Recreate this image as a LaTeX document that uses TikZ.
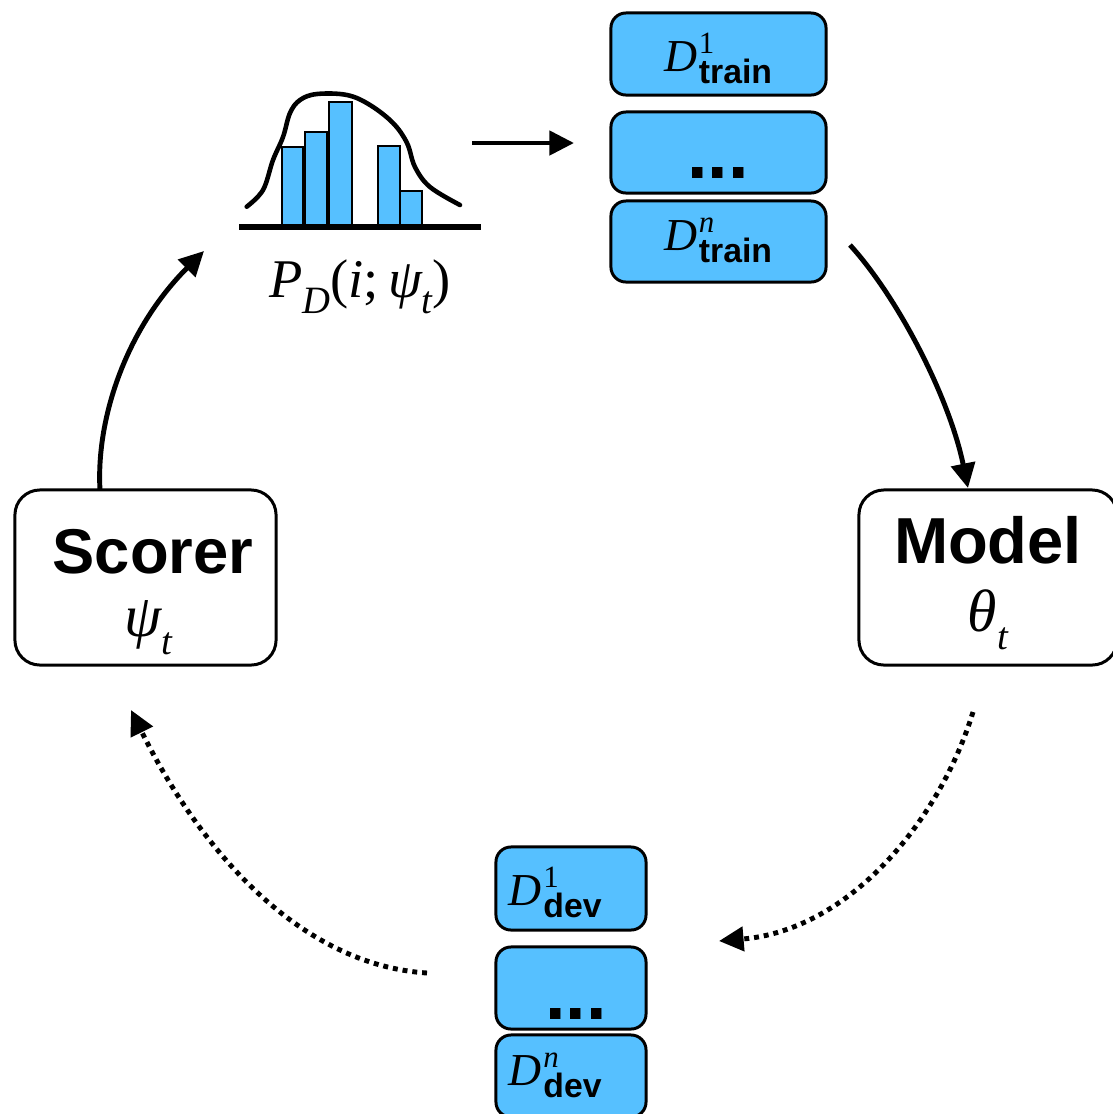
\documentclass[tikz,border=0pt]{standalone}
\usepackage{fontspec}
\setsansfont{Liberation Sans}
\newfontfamily\tms{Liberation Serif}
\usetikzlibrary{arrows.meta,calc}
\definecolor{boxblue}{RGB}{86,192,255}
\newcommand{\ti}[1]{{\tms\itshape #1}}
\newcommand{\tu}[1]{{\tms #1}}
\newcommand{\lsub}[1]{\raisebox{-0.3em}{\fontsize{11}{12}\selectfont\tms\itshape #1}}
\newcommand{\dlab}[2]{$\mbox{\tms\itshape D\kern0.04em}^{\mbox{\fontsize{8.8}{10}\selectfont\tms #1}}_{\mbox{\fontsize{9.6}{10}\selectfont\sffamily\bfseries #2}}$}
\begin{document}
\begin{tikzpicture}[x=0.01cm,y=-0.01cm,
  whitebox/.style={draw=black, line width=0.85pt, rounded corners=0.25cm, fill=white, inner sep=0pt},
  bluebox/.style={draw=black, line width=0.85pt, rounded corners=0.15cm, fill=boxblue, inner sep=0pt},
  conn/.style={line width=1.4pt, -{Triangle[length=7pt,width=6.8pt]}},
  dotconn/.style={conn, dash pattern=on 1.4pt off 1.4pt},
  bar/.style={draw=black, line width=0.6pt, fill=boxblue},
  title/.style={font=\sffamily\bfseries\fontsize{18}{21}\selectfont, anchor=base, inner sep=0pt},
  mathlab/.style={font=\fontsize{15.5}{18}\selectfont, inner sep=0pt},
  biglab/.style={font=\fontsize{17}{20}\selectfont, inner sep=0pt},
  dlabel/.style={font=\fontsize{13}{15}\selectfont, inner sep=0pt},
  dots/.style={font=\sffamily\bfseries\fontsize{21}{24}\selectfont, inner sep=0pt, anchor=base}
]
\useasboundingbox (0,0) rectangle (1113,1114);
\clip (0,0) rectangle (1113,1114);

% Scorer
\node[whitebox, minimum width=2.61cm, minimum height=1.75cm] (scorer) at (145.5,577.5) {};
\node[title] (scorertxt) at (153,573) {Scorer};
\node[biglab] (psi) at (148,628) {\ti{ψ}\lsub{t}};

% Model
\node[whitebox, minimum width=2.58cm, minimum height=1.75cm] (model) at (988,577.5) {};
\node[title, font=\sffamily\bfseries\fontsize{18.5}{21}\selectfont] (modeltxt) at (988,563) {Model};
\node[biglab] (theta) at (988,620) {\ti{θ}\lsub{t}};

% Train boxes
\node[bluebox, minimum width=2.15cm, minimum height=0.82cm] (t1) at (718.5,54) {};
\node[bluebox, minimum width=2.15cm, minimum height=0.81cm] (t2) at (718.5,152.5) {};
\node[bluebox, minimum width=2.15cm, minimum height=0.81cm] (t3) at (718.5,241.5) {};
\node[dlabel] (t1txt) at (719,58) {\dlab{1}{train}};
\node[dots] (t2txt) at (718,178) {...};
\node[dlabel] (t3txt) at (719,240) {\dlab{\itshape n}{train}};

% Dev boxes
\node[bluebox, minimum width=1.50cm, minimum height=0.83cm] (d1) at (571,888.5) {};
\node[bluebox, minimum width=1.50cm, minimum height=0.82cm] (d2) at (571,988) {};
\node[bluebox, minimum width=1.50cm, minimum height=0.82cm] (d3) at (571,1076) {};
\node[dlabel] (d1txt) at (556,892) {\dlab{1}{dev}};
\node[dots] (d2txt) at (576,1019) {...};
\node[dlabel] (d3txt) at (556,1075) {\dlab{\itshape n}{dev}};

% Histogram
\node[inner sep=0pt, minimum width=2.42cm, minimum height=1.34cm] (hist) at (360,160) {};
\draw[bar] (281.7,226.7) rectangle (303.3,146.7);
\draw[bar] (305,226.7) rectangle (327.3,132.3);
\draw[bar] (329,226.7) rectangle (351.7,101.7);
\draw[bar] (377.7,226.7) rectangle (400,146);
\draw[bar] (400,226.7) rectangle (422.3,191);
\draw[line width=1.3pt, line cap=round] plot[smooth, tension=0.6] coordinates {
  (246.7,206.7) (263,190) (273,160) (283,137) (290,113) (300,100) (317,94)
  (347,95) (370,105) (393,123) (407,143) (415,167) (430,187) (460,205)};
\draw[line width=1.6pt] (239,226.7) -- (481,226.7);
\node[mathlab] (pd) at (360,287) {\ti{P}\lsub{D}\tu{(}\ti{i}\tu{;\,}\ti{ψ}\lsub{t}\tu{)}};

% Connector end points
\coordinate (h2t1) at (472,143);
\coordinate (h2t2) at (574,143);
\coordinate (t2m1) at (850,245);
\coordinate (t2m2) at (968,488);
\coordinate (m2d1) at (973,712);
\coordinate (m2d2) at (719,941);
\coordinate (d2s1) at (427,973);
\coordinate (d2s2) at (131,710);
\coordinate (s2h1) at (100,490);
\coordinate (s2h2) at (204,251);

\draw[conn] (h2t1) -- (h2t2);
\draw[conn] (t2m1) .. controls (900,300) and (950,400) .. (t2m2);
\draw[dotconn] (m2d1) .. controls (940,820) and (850,930) .. (m2d2);
\draw[dotconn] (d2s1) .. controls (300,965) and (200,850) .. (d2s2);
\draw[conn] (s2h1) .. controls (96,420) and (125,330) .. (s2h2);
\end{tikzpicture}
\end{document}
